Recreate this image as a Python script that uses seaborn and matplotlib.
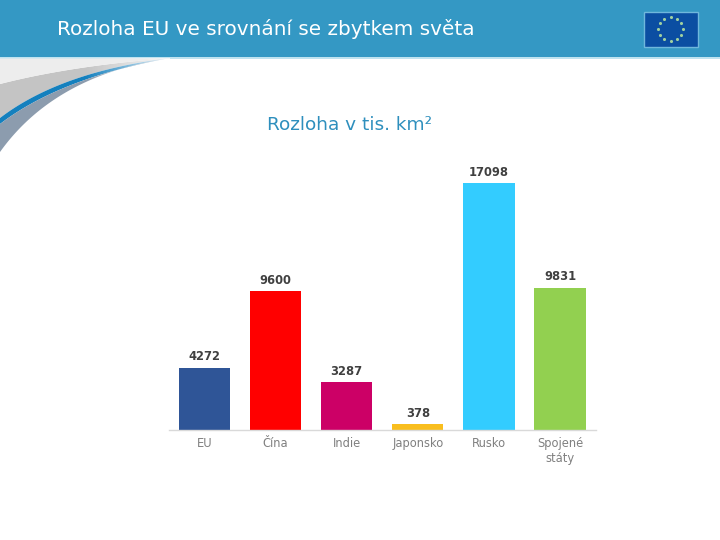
import numpy as np
import pandas as pd
import matplotlib
matplotlib.use('Agg')
import matplotlib.pyplot as plt
from matplotlib.patches import Polygon, Rectangle
import seaborn as sns

# Values
countries = ['EU', 'Čína', 'Indie', 'Japonsko', 'Rusko', 'Spojené\nstáty']
area = [4272, 9600, 3287, 378, 17098, 9831]
bar_colors = ['#2F5597', '#FF0000', '#CC0066', '#F9BE1E', '#33CCFF', '#92D050']

title = 'Rozloha EU ve srovnání se zbytkem světa'
subtitle = 'Rozloha v tis. km²'

sns.set_theme(style='white')
plt.rcParams['font.family'] = ['DejaVu Sans']

fig = plt.figure(figsize=(7.2, 5.4), dpi=100, facecolor='white')

# Slide background, drawn in pixel coordinates
bg = fig.add_axes([0, 0, 1, 1], zorder=0)
bg.axis('off')

bg.add_patch(Rectangle((0, 0), 720, 57, color='#3498C4', lw=0))
bg.add_patch(Rectangle((0, 57), 720, 1.5, color='#BFE3F0', lw=0))


# Swoosh under the header, every edge is a curve ending at (170, 58)
def curve(start_y, ctrl):
    t = np.linspace(0, 1, 60)
    x = 2 * (1 - t) * t * ctrl[0] + t ** 2 * 170
    y = (1 - t) ** 2 * start_y + 2 * (1 - t) * t * ctrl[1] + t ** 2 * 58
    return list(zip(x, y))


def band(upper, lower, color, z):
    bg.add_patch(Polygon(upper + lower[::-1], closed=True, color=color, lw=0, zorder=z))


grey_top = curve(84, (70, 66))
blue_top = curve(118, (60, 72))
blue_bot = curve(124, (60, 78))
dark_bot = curve(152, (55, 75))

band(grey_top, blue_top, '#C4C4C4', 1)
band(blue_top, blue_bot, '#1480BE', 1)
band(blue_bot, dark_bot, '#8C9CAE', 1)

# fade the darker bands out to the right, light grey stays on top
fade = np.ones((2, 100, 4))
fade[..., 3] = np.linspace(0, 0.9, 100)
bg.imshow(fade, extent=(85, 170, 90, 58.5), aspect='auto', zorder=2)
band([(0, 58.5), (170, 58.5)], grey_top, '#EDEDED', 3)

# EU flag
bg.add_patch(Rectangle((643.5, 11.5), 54, 35, facecolor='#0B4EA2', edgecolor='#6FB7DC', lw=1))
angles = np.linspace(0, 2 * np.pi, 12, endpoint=False)
bg.scatter(670.5 + 12.5 * np.sin(angles), 29 - 12 * np.cos(angles), s=5, color='#9FD0A0', lw=0, zorder=4)

bg.set_xlim(0, 720)
bg.set_ylim(540, 0)

bg.text(57, 29, title, color='white', fontsize=14.4, va='center', ha='left')
bg.text(349.5, 125, subtitle, color='#2E8FBD', fontsize=13.3, va='center', ha='center')

# Bar chart
ax = fig.add_axes([168.7 / 720, (540 - 429.5) / 540, 427 / 720, 288.3 / 540], zorder=1)
ax.patch.set_alpha(0)
df = pd.DataFrame({'country': countries, 'area': area})
sns.barplot(data=df, x='country', y='area', hue='country', palette=bar_colors,
            legend=False, dodge=False, width=0.72, saturation=1, linewidth=0, ax=ax)
ax.set_ylim(0, 20000)
ax.set_xlim(-0.5, 5.5)
ax.set_xlabel('')
ax.set_ylabel('')
ax.set_yticks([])
sns.despine(ax=ax, left=True)
ax.spines['bottom'].set_color('#D9D9D9')
ax.spines['bottom'].set_linewidth(1)
ax.tick_params(axis='x', length=0, pad=5.3, labelsize=8.3, labelcolor='#808080')
for label in ax.get_xticklabels():
    label.set_linespacing(1.2)
    label.set_verticalalignment('top')

for i, v in enumerate(area):
    ax.annotate(str(v), (i, v), xytext=(0, 3.2), textcoords='offset points',
                ha='center', va='bottom', fontsize=8.3, fontweight='bold', color='#404040')

fig.savefig('out.png', dpi=100)
